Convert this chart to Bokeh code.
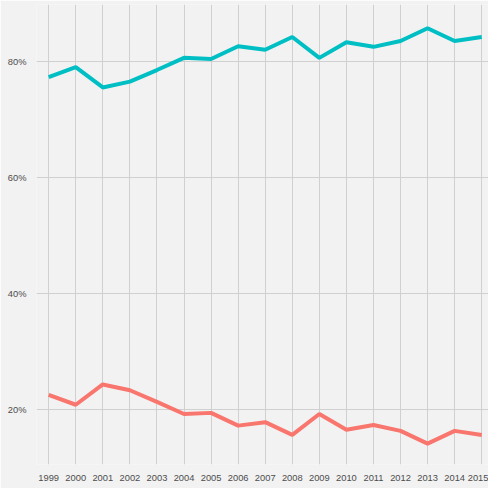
from bokeh.plotting import figure
from bokeh.models import FixedTicker, Range1d
from bokeh.embed import file_html
from bokeh.resources import INLINE

years = list(range(1999, 2016))
teal = [77.4, 79.1, 75.6, 76.6, 78.6, 80.7, 80.5, 82.7, 82.1, 84.3, 80.7, 83.4, 82.6, 83.6, 85.8, 83.6, 84.3]
red = [22.6, 20.9, 24.4, 23.4, 21.4, 19.3, 19.5, 17.3, 17.9, 15.7, 19.3, 16.6, 17.4, 16.4, 14.2, 16.4, 15.7]
y_ticks = [20, 40, 60, 80]

p = figure(width=488, height=488, output_backend="svg", toolbar_location=None,
           x_range=Range1d(1998.55, 2015.25), y_range=Range1d(10.6, 89.9),
           background_fill_color="#F2F2F2", border_fill_color="#F2F2F2",
           min_border_left=36, min_border_right=0, min_border_top=4, min_border_bottom=24)
p.outline_line_color = None

p.line(years, teal, line_width=4, color="#00BFC4")
p.line(years, red, line_width=4, color="#F8766D")

p.xaxis.ticker = FixedTicker(ticks=years)
p.yaxis.ticker = FixedTicker(ticks=y_ticks)
p.yaxis.major_label_overrides = {t: f"{t}%" for t in y_ticks}
for ax in (p.xaxis, p.yaxis):
    ax.axis_line_color = None
    ax.major_tick_line_color = None
    ax.minor_tick_line_color = None
    ax.major_label_text_color = "#4D4D4D"
    ax.major_label_text_font = "Liberation Sans"
    ax.major_label_text_font_size = "7pt"
    ax.major_label_standoff = 4
p.xgrid.grid_line_color = "#D0D0D0"
p.ygrid.grid_line_color = "#D0D0D0"

open("out.html", "w").write(file_html(p, INLINE))
